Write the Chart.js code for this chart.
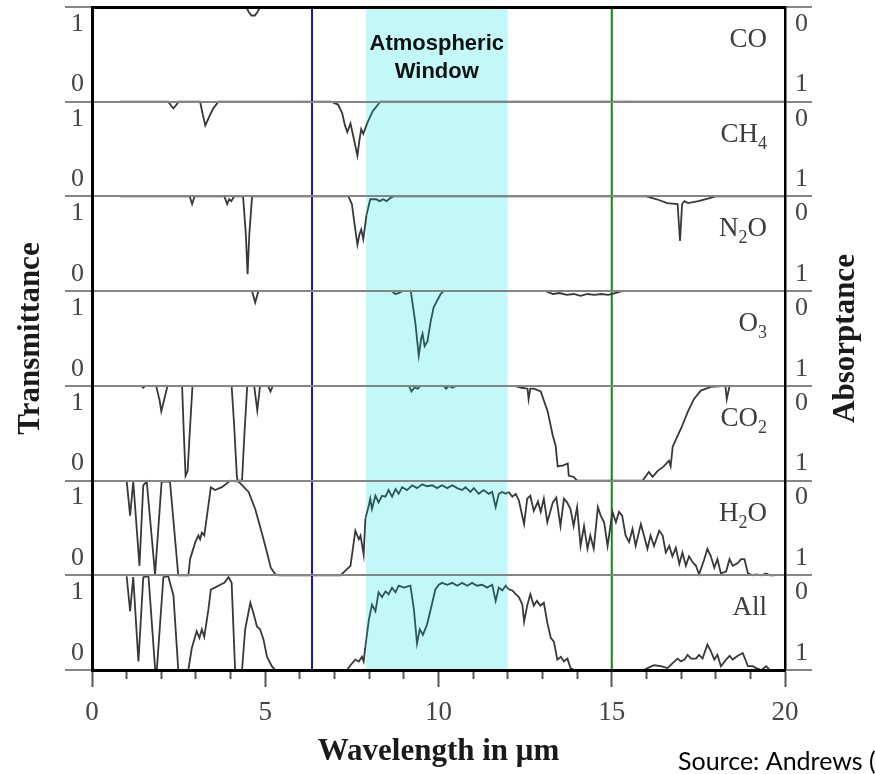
<!DOCTYPE html>
<html>
<head>
<meta charset="utf-8">
<script src="https://cdn.jsdelivr.net/npm/chart.js@4.4.1/dist/chart.umd.min.js"></script>
<style>
html, body { margin: 0; padding: 0; background: #fff; }
</style>
</head>
<body>
<canvas id="chart" width="875" height="774"></canvas>
<script>
// transmittance spectra, [wavelength um, transmittance 0..1]
let co = [[0.8,1],[4.45,1],[4.52,0.95],[4.6,0.91],[4.7,0.91],[4.78,0.95],[4.85,1],[20,1]];

let ch4 = [[0.8,1],[2.2,1],[2.28,0.96],[2.35,0.93],[2.42,0.96],[2.5,1],[3.12,1],[3.2,0.86],[3.27,0.75],
  [3.38,0.84],[3.5,0.93],[3.65,1],[6.9,1],[7.1,0.97],[7.22,0.88],[7.3,0.75],[7.37,0.68],[7.46,0.77],
  [7.55,0.62],[7.66,0.43],[7.72,0.6],[7.77,0.71],[7.83,0.66],[7.95,0.78],[8.1,0.9],[8.32,1],[20,1]];

let n2o = [[0.8,1],[2.82,1],[2.89,0.92],[2.96,1],[3.82,1],[3.9,0.92],[3.96,0.97],[4.02,0.95],[4.1,1],
  [4.36,1],[4.44,0.6],[4.49,0.18],[4.54,0.6],[4.62,1],[7.4,1],[7.5,0.92],[7.58,0.7],[7.66,0.49],
  [7.72,0.6],[7.77,0.65],[7.83,0.55],[7.92,0.8],[8.03,0.97],[8.2,0.97],[8.3,0.95],[8.4,0.97],
  [8.5,0.95],[8.6,0.98],[8.7,1],[16.0,1],[16.3,0.97],[16.6,0.93],[16.9,0.92],[16.97,0.53],
  [17.03,0.92],[17.1,0.95],[17.2,0.93],[17.5,0.95],[17.8,0.98],[18.0,1],[20,1]];

let o3 = [[0.8,1],[4.62,1],[4.71,0.88],[4.8,1],[8.65,1],[8.75,0.97],[8.85,0.98],[8.95,1],[9.2,1],
  [9.33,0.67],[9.43,0.32],[9.5,0.5],[9.54,0.55],[9.6,0.42],[9.68,0.47],[9.77,0.67],[9.86,0.83],
  [10.06,0.97],[10.15,1],[13.1,1],[13.3,0.97],[13.5,0.98],[13.7,0.96],[13.9,0.97],[14.1,0.95],
  [14.3,0.97],[14.5,0.96],[14.7,0.97],[14.9,0.96],[15.1,0.98],[15.3,1],[20,1]];

let co2 = [[0.8,1],[1.42,1],[1.48,0.98],[1.54,1],[1.85,1],[1.95,0.85],[2.0,0.73],[2.08,0.85],[2.18,1],
  [2.6,1],[2.65,0.5],[2.7,0.05],[2.76,0.1],[2.82,0.5],[2.9,1],[4.03,1],[4.1,0.6],[4.18,0.05],[4.2,0],
  [4.33,0],[4.4,0.5],[4.48,1],[4.68,1],[4.77,0.74],[4.85,1],[5.08,1],[5.15,0.94],[5.22,1],[9.15,1],
  [9.22,0.94],[9.3,0.98],[9.4,0.97],[9.48,1],[10.15,1],[10.22,0.97],[10.3,1],[10.4,0.98],[10.5,1],
  [12.2,1],[12.4,0.98],[12.57,0.97],[12.6,0.86],[12.65,0.97],[12.75,0.97],[12.95,0.94],[13.15,0.73],
  [13.3,0.47],[13.38,0.37],[13.44,0.15],[13.6,0.16],[13.73,0.18],[13.76,0.05],[13.9,0.04],[14.0,0],
  [15.9,0],[15.93,0.02],[16.07,0.09],[16.18,0.04],[16.32,0.1],[16.5,0.15],[16.65,0.21],[16.7,0.15],
  [16.76,0.36],[17.0,0.55],[17.2,0.73],[17.37,0.86],[17.57,0.95],[17.86,0.99],[18.28,1],[18.32,0.86],
  [18.4,1],[20,1]];

let h2o = [[1.0,1.0],[1.1,0.63],[1.19,0.99],[1.37,0.1],[1.48,0.95],[1.58,0.99],[1.82,0.01],[2.01,0.99],
  [2.25,0.99],[2.49,0],[2.78,0],[2.83,0.17],[2.98,0.35],[3.07,0.42],[3.12,0.38],[3.17,0.45],[3.24,0.42],
  [3.36,0.74],[3.43,0.93],[3.55,0.9],[3.75,0.93],[3.99,1.0],[4.23,0.99],[4.52,0.88],[4.71,0.7],
  [4.9,0.45],[5.05,0.24],[5.16,0.08],[5.29,0.01],[5.4,0],[7.17,0],[7.46,0.1],[7.6,0.47],[7.7,0.38],
  [7.75,0.42],[7.84,0.22],[7.89,0.6],[7.99,0.74],[8.03,0.81],[8.08,0.7],[8.18,0.84],[8.27,0.77],
  [8.37,0.84],[8.47,0.83],[8.56,0.9],[8.66,0.83],[8.76,0.91],[8.85,0.86],[8.95,0.93],[9.09,0.9],
  [9.24,0.95],[9.38,0.92],[9.53,0.96],[9.67,0.94],[9.82,0.95],[9.96,0.92],[10.1,0.95],[10.25,0.92],
  [10.4,0.95],[10.54,0.92],[10.68,0.9],[10.78,0.93],[10.92,0.88],[11.02,0.92],[11.16,0.86],[11.3,0.9],
  [11.45,0.86],[11.55,0.88],[11.65,0.72],[11.74,0.86],[11.84,0.88],[11.94,0.86],[12.03,0.88],
  [12.13,0.83],[12.23,0.86],[12.32,0.79],[12.47,0.54],[12.56,0.81],[12.65,0.84],[12.75,0.68],
  [12.87,0.78],[12.95,0.67],[13.04,0.81],[13.14,0.56],[13.3,0.77],[13.4,0.82],[13.52,0.52],
  [13.62,0.81],[13.71,0.77],[13.81,0.7],[13.9,0.52],[14.0,0.72],[14.1,0.31],[14.2,0.52],[14.3,0.28],
  [14.38,0.42],[14.48,0.28],[14.6,0.72],[14.68,0.63],[14.78,0.56],[14.88,0.31],[15.02,0.67],
  [15.12,0.56],[15.21,0.67],[15.3,0.63],[15.4,0.42],[15.5,0.35],[15.6,0.49],[15.69,0.31],[15.84,0.54],
  [15.93,0.42],[16.03,0.28],[16.12,0.42],[16.22,0.31],[16.37,0.47],[16.47,0.42],[16.56,0.24],
  [16.66,0.31],[16.75,0.2],[16.85,0.29],[16.95,0.12],[17.04,0.24],[17.14,0.1],[17.23,0.2],[17.33,0.14],
  [17.43,0.1],[17.52,0.01],[17.67,0.17],[17.76,0.28],[17.86,0.2],[17.96,0.08],[18.05,0.17],[18.15,0.02],
  [18.3,0.04],[18.4,0.17],[18.49,0.1],[18.64,0.13],[18.73,0.17],[18.83,0.17],[18.93,0.02],[19.07,0],
  [19.17,0.01],[19.32,0],[19.46,0.02],[19.56,0],[19.7,0]];

let all = [[1.0,0.99],[1.1,0.62],[1.19,0.98],[1.34,0.09],[1.48,0.98],[1.63,0.99],[1.82,0.02],[1.87,0],
  [2.06,0.98],[2.2,0.99],[2.35,0.79],[2.49,0],[2.78,0],[2.88,0.23],[3.02,0.41],[3.1,0.34],[3.17,0.43],
  [3.24,0.35],[3.36,0.64],[3.43,0.85],[3.55,0.87],[3.7,0.9],[3.82,0.92],[3.94,0.98],[4.03,0.92],
  [4.13,0],[4.33,0],[4.42,0.43],[4.57,0.71],[4.66,0.6],[4.76,0.46],[4.85,0.43],[4.95,0.32],[5.05,0.14],
  [5.19,0.04],[5.29,0],[7.36,0],[7.46,0.05],[7.6,0.11],[7.7,0.09],[7.79,0.14],[7.84,0.09],[7.89,0.25],
  [7.99,0.53],[8.08,0.69],[8.18,0.62],[8.27,0.82],[8.37,0.77],[8.47,0.83],[8.56,0.8],[8.66,0.87],
  [8.76,0.82],[8.85,0.89],[9.0,0.87],[9.19,0.89],[9.29,0.64],[9.38,0.28],[9.46,0.43],[9.55,0.37],
  [9.67,0.48],[9.82,0.71],[9.91,0.85],[10.01,0.9],[10.1,0.92],[10.25,0.9],[10.4,0.92],[10.54,0.89],
  [10.68,0.92],[10.83,0.89],[10.97,0.92],[11.11,0.89],[11.26,0.9],[11.4,0.87],[11.55,0.9],[11.65,0.73],
  [11.74,0.87],[11.84,0.84],[11.94,0.89],[12.03,0.85],[12.13,0.84],[12.23,0.8],[12.32,0.77],
  [12.42,0.69],[12.47,0.51],[12.56,0.68],[12.65,0.8],[12.75,0.68],[12.84,0.73],[12.94,0.68],
  [13.04,0.71],[13.14,0.5],[13.24,0.34],[13.33,0.3],[13.43,0.11],[13.53,0.14],[13.62,0.09],
  [13.72,0.12],[13.81,0.02],[13.91,0],[15.93,0],[16.03,0.02],[16.22,0.05],[16.42,0.04],[16.61,0.02],
  [16.75,0.07],[16.9,0.12],[17.0,0.09],[17.1,0.11],[17.19,0.16],[17.29,0.12],[17.43,0.12],[17.52,0.16],
  [17.62,0.12],[17.76,0.27],[17.86,0.2],[17.96,0.11],[18.05,0.16],[18.15,0.04],[18.3,0.11],[18.4,0.15],
  [18.49,0.11],[18.64,0.15],[18.78,0.18],[18.93,0.04],[19.07,0.04],[19.17,0.02],[19.32,0],[19.46,0.04],
  [19.56,0]];

// panels, top to bottom
let panelNames = ["CO", "CH_4", "N_2O", "O_3", "CO_2", "H_2O", "All"];
let panelData = [co, ch4, n2o, o3, co2, h2o, all];

let windowBand = [7.9, 12];
let windowText = ["Atmospheric", "Window"];
let markerLines = [6.35, 15];
let labelPos = [0.18, 0.82];
let xTicks = [0,1,2,3,4,5,6,7,8,9,10,11,12,13,14,15,16,17,18,19,20];

let lineColor = "#383838";
let bandLineColor = "#2f5656";
let sepColor = "#858585";
let serif = '"Liberation Serif", "Times New Roman", serif';

Chart.defaults.font.family = serif;

let nPanels = panelData.length;
let datasets = [];

function inBand(c) {
    let x = (c.p0.parsed.x + c.p1.parsed.x) / 2;
    return x > windowBand[0] && x < windowBand[1] ? bandLineColor : lineColor;
}

panelData.forEach(function (arr, i) {
    let base = nPanels - 1 - i;
    datasets.push({
        data: arr.map(p => ({ x: p[0], y: base + p[1] })),
        borderColor: lineColor,
        segment: { borderColor: inBand },
        borderWidth: 1.8,
        pointRadius: 0,
        tension: 0,
        fill: false
    });
});

datasets.push({
    data: [{ x: markerLines[0], y: 0 }, { x: markerLines[0], y: nPanels }],
    borderColor: "#1414c0", borderWidth: 2, pointRadius: 0, fill: false
});
datasets.push({
    data: [{ x: markerLines[1], y: 0 }, { x: markerLines[1], y: nPanels }],
    borderColor: "#118811", borderWidth: 2, pointRadius: 0, fill: false
});
// window band last so it is drawn underneath
datasets.push({
    data: [{ x: windowBand[0], y: nPanels }, { x: windowBand[1], y: nPanels }],
    borderWidth: 0, pointRadius: 0,
    backgroundColor: "#c2f8f8",
    fill: "start"
});

// y ticks: separators plus the label positions in each panel
let yTickVals = [];
for (let i = 0; i <= nPanels; i++) {
    yTickVals.push(i);
    if (i < nPanels) {
        yTickVals.push(i + labelPos[0]);
        yTickVals.push(i + labelPos[1]);
    }
}

function isSep(v) {
    return Math.abs(v - Math.round(v)) < 0.001;
}

function sepOnly(c) {
    return c.tick && isSep(c.tick.value) ? sepColor : "rgba(0,0,0,0)";
}

function setYTicks(s) {
    s.ticks = yTickVals.map(v => ({ value: v }));
}

function drawChem(ctx, text, right, base, size) {
    let parts = text.split(/_(\d)/);
    let big = size + "px " + serif;
    let small = Math.round(size * 0.66) + "px " + serif;
    let w = 0;
    parts.forEach(function (p, k) {
        ctx.font = k % 2 ? small : big;
        w += ctx.measureText(p).width;
    });
    let x = right - w;
    ctx.textAlign = "left";
    ctx.textBaseline = "alphabetic";
    parts.forEach(function (p, k) {
        ctx.font = k % 2 ? small : big;
        ctx.fillText(p, x, base + (k % 2 ? 7 : 0));
        x += ctx.measureText(p).width;
    });
}

let decor = {
    id: "decor",
    afterDraw(chart) {
        let ctx = chart.ctx;
        let area = chart.chartArea;
        let ys = chart.scales.y;
        let xs = chart.scales.x;

        ctx.save();
        ctx.fillStyle = "#3c3c3c";
        panelNames.forEach(function (name, i) {
            let top = ys.getPixelForValue(nPanels - i);
            drawChem(ctx, name, area.right - 18, top + 40, 27);
        });

        ctx.fillStyle = "#111";
        ctx.font = 'bold 22px "Liberation Sans", Arial, sans-serif';
        ctx.textAlign = "center";
        ctx.textBaseline = "alphabetic";
        let cx = xs.getPixelForValue((windowBand[0] + windowBand[1]) / 2);
        ctx.fillText(windowText[0], cx, area.top + 43);
        ctx.fillText(windowText[1], cx, area.top + 71);

        ctx.fillStyle = "#000";
        ctx.font = '25px Lato, "Open Sans", sans-serif';
        ctx.textAlign = "left";
        ctx.fillText("Source: Andrews (", 678, 770);

        ctx.translate(846, (area.top + area.bottom) / 2);
        ctx.rotate(-Math.PI / 2);
        ctx.font = "bold 31px " + serif;
        ctx.fillStyle = "#1a1a1a";
        ctx.textAlign = "center";
        ctx.textBaseline = "middle";
        ctx.fillText("Absorptance", 0, 0);
        ctx.restore();
    }
};

new Chart("chart", {
    type: "line",
    data: { datasets: datasets },
    plugins: [decor],
    options: {
        responsive: false,
        animation: false,
        layout: { padding: 0 },
        plugins: {
            legend: { display: false },
            tooltip: { enabled: false }
        },
        scales: {
            x: {
                type: "linear", min: 0, max: 20, position: "bottom",
                afterBuildTicks: s => { s.ticks = xTicks.map(v => ({ value: v })); },
                afterFit: s => { s.height = 104; s.paddingLeft = 0; s.paddingRight = 0; },
                border: { color: "#000", width: 3, z: 2 },
                grid: {
                    drawOnChartArea: false,
                    tickLength: 17,
                    tickColor: "#555",
                    tickWidth: 2,
                    tickBorderDash: c => (c.tick && c.tick.value % 5 === 0) ? [] : [7, 40]
                },
                ticks: {
                    autoSkip: false, maxRotation: 0, padding: 10,
                    color: "#444", font: { size: 27 },
                    callback: v => v % 5 === 0 ? String(v) : ""
                },
                title: {
                    display: true, text: "Wavelength in μm", color: "#1a1a1a",
                    font: { size: 31, weight: "bold" }, padding: { top: 0, bottom: 3 }
                }
            },
            xt: {
                type: "linear", min: 0, max: 20, position: "top",
                afterFit: s => { s.height = 7; s.paddingLeft = 0; s.paddingRight = 0; },
                border: { color: "#000", width: 3, z: 2 },
                grid: { drawOnChartArea: false, drawTicks: false },
                ticks: { display: false }
            },
            y: {
                type: "linear", min: 0, max: nPanels, position: "left",
                afterBuildTicks: setYTicks,
                afterFit: s => { s.width = 92; s.paddingTop = 0; s.paddingBottom = 0; },
                border: { color: "#000", width: 3, z: 2 },
                grid: { color: sepOnly, tickColor: sepOnly, lineWidth: 2, tickLength: 27, z: 1 },
                ticks: {
                    autoSkip: false, padding: -19, color: "#444", font: { size: 26 },
                    callback: v => isSep(v) ? "" : (v - Math.floor(v) < 0.5 ? "0" : "1")
                },
                title: {
                    display: true, text: "Transmittance", color: "#1a1a1a",
                    font: { size: 31, weight: "bold" }, padding: { top: 12, bottom: 0 }
                }
            },
            yr: {
                type: "linear", min: 0, max: nPanels, position: "right",
                afterBuildTicks: setYTicks,
                afterFit: s => { s.width = 90; s.paddingTop = 0; s.paddingBottom = 0; },
                border: { color: "#000", width: 2.5, z: 2 },
                grid: { drawOnChartArea: false, tickColor: sepOnly, lineWidth: 2, tickLength: 27 },
                ticks: {
                    autoSkip: false, padding: -17, color: "#444", font: { size: 26 },
                    callback: v => isSep(v) ? "" : (v - Math.floor(v) < 0.5 ? "1" : "0")
                }
            }
        }
    }
});
</script>
</body>
</html>
